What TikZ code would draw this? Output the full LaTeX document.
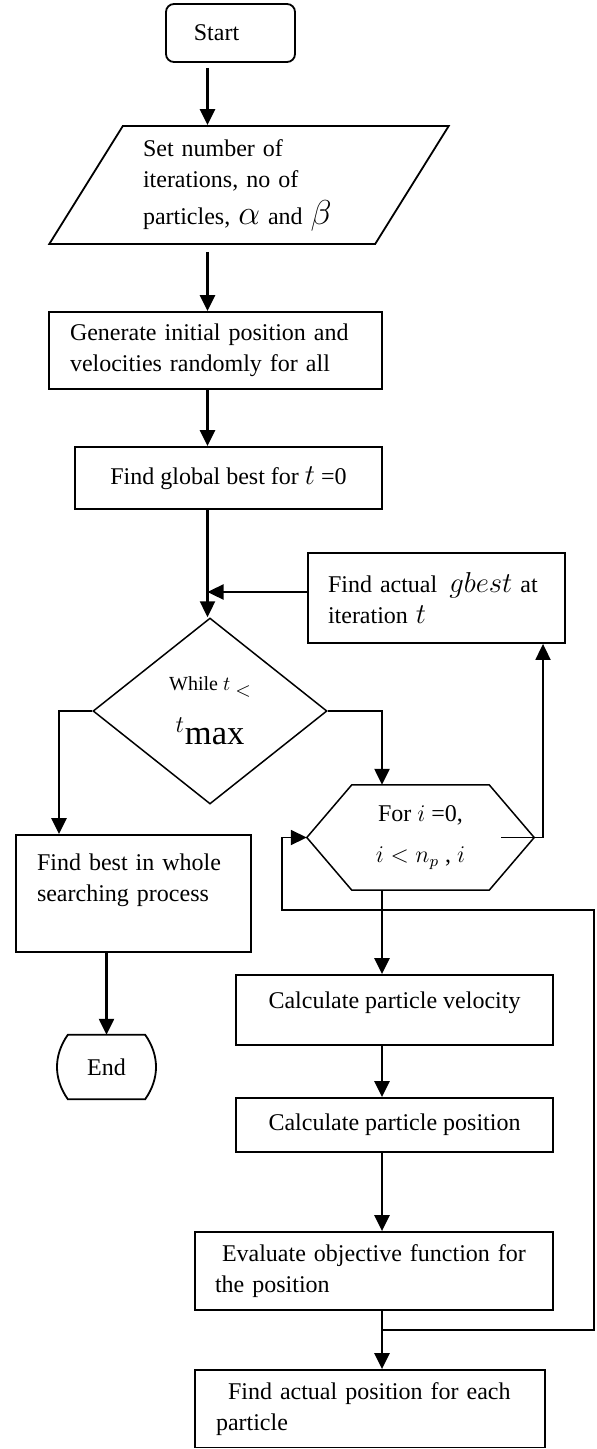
\documentclass[tikz,border=0pt]{standalone}
\usepackage{amsmath}
\usepackage{amssymb}
\usepackage{fontspec}
\setmainfont{Liberation Serif}
\usetikzlibrary{arrows.meta,shapes.geometric}

\begin{document}
\begin{tikzpicture}[->,>={Triangle[length=8pt,width=7.5pt]},x=0.5pt,y=-0.5pt,
                    line width=1.2pt]
  \tikzstyle{every node}=[font=\fontsize{12}{15.5}\selectfont]
  \tikzstyle{terminal}=[rectangle,rounded corners=4pt,draw,line width=0.9pt,
                        minimum width=64.5pt,minimum height=29pt]
  \tikzstyle{stopnode}=[rectangle,minimum width=47.5pt,minimum height=31pt]
  \tikzstyle{io}=[trapezium,trapezium left angle=56,trapezium right angle=124,
                  trapezium stretches=true,draw,line width=0.9pt,minimum width=200pt,
                  minimum height=59pt,inner sep=0pt,text width=106pt,align=left]
  \tikzstyle{process}=[rectangle,draw,line width=0.9pt,inner sep=0pt]
  \tikzstyle{decision}=[diamond,draw,line width=0.75pt,minimum width=117pt,
                        minimum height=93pt,inner sep=0pt,align=center]

  \useasboundingbox (0,0) rectangle (597,1449);

  \node[terminal] (start) at (230.5,33) {Start\hspace*{14pt}};

  \node[io] (input) [below of=start, node distance=76pt, xshift=9.25pt]
       {Set number of\\iterations, no of\\[3pt]particles, {\LARGE$\alpha$} and {\LARGE$\beta$}};

  \node[process, minimum width=166.5pt, minimum height=38.5pt, text width=145.5pt,
        align=left] (init) [below of=input, node distance=82.75pt, xshift=-16.75pt]
       {Generate initial position and\\velocities randomly for all};

  \node[process, minimum width=153.5pt, minimum height=31pt] (gbest0)
       [below of=init, node distance=63.75pt, xshift=6.5pt]
       {Find global best for {\Large$t$} =0};

  \node[decision] (whilenode) [below of=gbest0, node distance=116.5pt, xshift=-9.25pt]
       {{\fontsize{10}{12}\selectfont While $t$ \raisebox{-3pt}{$<$}}\\[9pt]{\LARGE$^{t}\mathrm{max}$}};

  \node[process, minimum width=128.5pt, minimum height=45pt, text width=108.5pt,
        align=left] (actualg) at (436.5,598)
       {Find actual \,{\Large$gbest$} at\\iteration {\Large$t$}};

  \node[minimum width=112.5pt, minimum height=51.5pt, inner sep=0pt, align=center]
       (hexnode) [below of=actualg, node distance=119.75pt, xshift=-8pt]
       {For $i$ =0,\\[5pt]$i<n_{p}$ , $i$};

  \node[process, minimum width=117.5pt, minimum height=58.5pt, text width=96.5pt,
        align=left] (bestnode) [below of=whilenode, node distance=91.25pt, xshift=-38.25pt]
       {Find best in whole\\searching process\\\mbox{}};

  \node[stopnode] (endnode) [below of=bestnode, node distance=86.75pt, xshift=-13.5pt] {End};

  \node[process, minimum width=158.5pt, minimum height=35pt, align=center] (velnode)
       [below of=hexnode, node distance=86.25pt, xshift=-13pt]
       {Calculate particle velocity\\[-6pt]\mbox{}};

  \node[process, minimum width=158.5pt, minimum height=27pt] (posnode)
       [below of=velnode, node distance=57.5pt] {Calculate particle position};

  \node[process, minimum width=179pt, minimum height=39pt, text width=159pt, align=left]
       (evalnode) [below of=posnode, node distance=73pt, xshift=-10.25pt]
       {\hspace*{3.5pt}Evaluate objective function for\\the position};

  \node[process, minimum width=175pt, minimum height=38.75pt, text width=154pt, align=left]
       (finalnode) [below of=evalnode, node distance=68.875pt, xshift=-2pt]
       {\hspace*{6pt}Find actual position for each\\particle};

  % hexagon outline of the loop node
  \draw[-,line width=0.75pt] (hexnode.west) -- ([xshift=22.5pt]hexnode.north west)
       -- ([xshift=-22.5pt]hexnode.north east) -- (hexnode.east)
       -- ([xshift=-22.5pt]hexnode.south east) -- ([xshift=22.5pt]hexnode.south west) -- cycle;

  % end terminal with bulging sides
  \draw[-,line width=0.9pt] ([xshift=5pt]endnode.north west) -- ([xshift=-5pt]endnode.north east)
       to[bend left=35] ([xshift=-5pt]endnode.south east) -- ([xshift=5pt]endnode.south west)
       to[bend left=35] cycle;

  \coordinate (colL) at (207.5,0);
  \coordinate (colR) at (382,0);
  \coordinate (loopjoin) at (382,1330);
  \coordinate (loopcorner) at (594,910);
  \coordinate (gin) at ([yshift=3pt]actualg.west);
  \coordinate (hexout) at ([xshift=-16.5pt]hexnode.east);

  \draw[shorten <=2.5pt] (start.south -| colL) -- (input.north -| colL);
  \draw[shorten <=3.5pt] (input.south -| colL) -- (init.north -| colL);
  \draw (init.south -| colL) -- (gbest0.north -| colL);
  \draw (gbest0.south -| colL) -- (whilenode.north -| colL);
  \draw (gin) -- (gin -| colL);
  \draw (whilenode.west) -| ([xshift=-37.25pt]bestnode.north);
  \draw (whilenode.east) -| (hexnode.north -| colR);
  \draw (bestnode.south -| endnode.north) -- (endnode.north);
  \draw[line width=0.9pt] (hexout) -| ([xshift=53.25pt]actualg.south);
  \draw (hexnode.south -| colR) -- (velnode.north -| colR);
  \draw (velnode.south -| colR) -- (posnode.north -| colR);
  \draw (posnode.south -| colR) -- (evalnode.north -| colR);
  \draw (evalnode.south -| colR) -- (finalnode.north -| colR);
  \draw[line width=0.9pt] (loopjoin) -| (loopcorner)
       -| ([xshift=-12.5pt]hexnode.west) -- (hexnode.west);

\end{tikzpicture}
\end{document}
